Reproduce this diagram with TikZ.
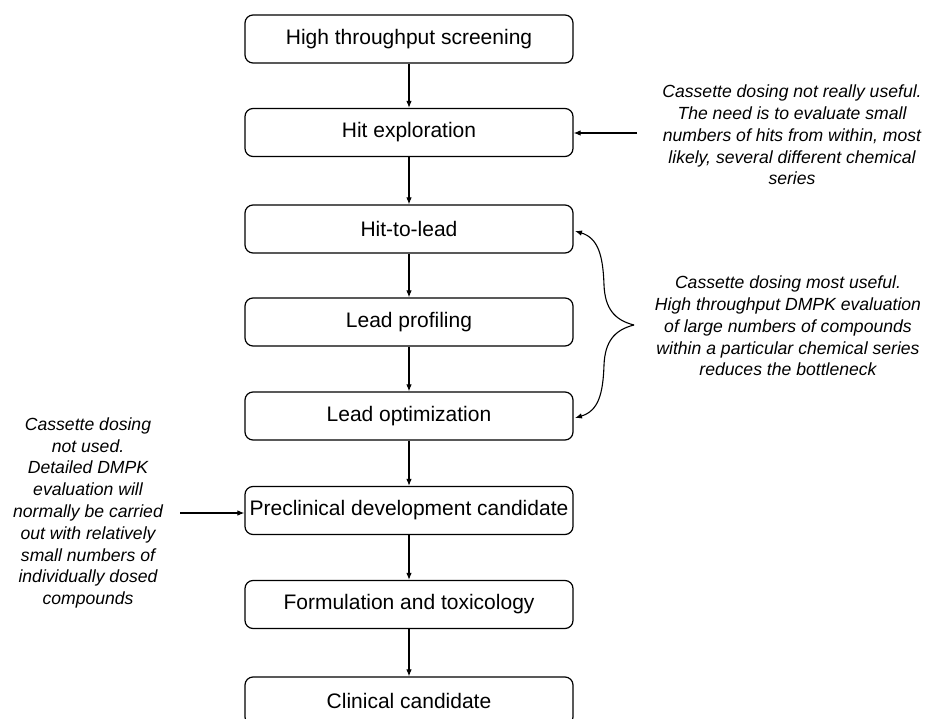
\documentclass[tikz,border=0pt]{standalone}
\usepackage{fontspec}
\setmainfont{Liberation Sans}
\usetikzlibrary{arrows.meta}
\tikzset{
  stagebox/.style={draw=black, line width=1.2pt, rounded corners=8pt,
    minimum width=328pt, minimum height=48pt, inner sep=0pt,
    font=\fontsize{21}{25}\selectfont},
  notetext/.style={align=center, inner sep=0pt,
    font=\fontsize{17.6}{21.8}\selectfont\itshape},
  flow/.style={draw=black, line width=1.1pt, -{Latex[length=7pt,width=5.5pt]}}
}
\begin{document}
\begin{tikzpicture}[x=1pt,y=-1pt]
\useasboundingbox (0,0) rectangle (926,719);
\clip (0,0) rectangle (926,719);
\fill[white] (0,0) rectangle (926,719);

\node[stagebox] (hts) at (409,39) {High throughput screening};
\node[stagebox] (he)  at (409,132.5) {Hit exploration};
\node[stagebox] (hl)  at (409,229) {Hit-to-lead};
\node[stagebox] (lp)  at (409,322) {Lead profiling};
\node[stagebox] (lo)  at (409,416) {Lead optimization};
\node[stagebox] (pdc) at (409,510.5) {Preclinical development candidate};
\node[stagebox] (ft)  at (409,604.5) {Formulation and toxicology};
\node[stagebox] (cc)  at (409,701) {Clinical candidate};

\draw[flow] (hts) -- (he);
\draw[flow] (he) -- (hl);
\draw[flow] (hl) -- (lp);
\draw[flow] (lp) -- (lo);
\draw[flow] (lo) -- (pdc);
\draw[flow] (pdc) -- (ft);
\draw[flow] (ft) -- (cc);

\node[notetext] (n1) at (792,135) {Cassette dosing not really useful.\\
The need is to evaluate small\\
numbers of hits from within, most\\
likely, several different chemical\\
series};
\coordinate (n1a) at (637,133);
\draw[flow] (n1a) -- (he.east |- n1a);

\node[notetext] (n2) at (788,326) {Cassette dosing most useful.\\
High throughput DMPK evaluation\\
of large numbers of compounds\\
within a particular chemical series\\
reduces the bottleneck};
\coordinate (bt) at (634,325);
\coordinate (hlt) at (575,231);
\coordinate (lot) at (575,418);
\draw[flow] (bt) .. controls (614,320) and (605,308) .. (604,285)
  .. controls (603,255) and (598,238) .. (hlt);
\draw[flow] (bt) .. controls (614,330) and (605,342) .. (604,365)
  .. controls (603,395) and (598,411) .. (lot);

\node[notetext] (n3) at (88,513) {Cassette dosing\\
not used.\\
Detailed DMPK\\
evaluation will\\
normally be carried\\
out with relatively\\
small numbers of\\
individually dosed\\
compounds};
\coordinate (n3a) at (180,513);
\draw[flow] (n3a) -- (pdc.west |- n3a);
\end{tikzpicture}
\end{document}
